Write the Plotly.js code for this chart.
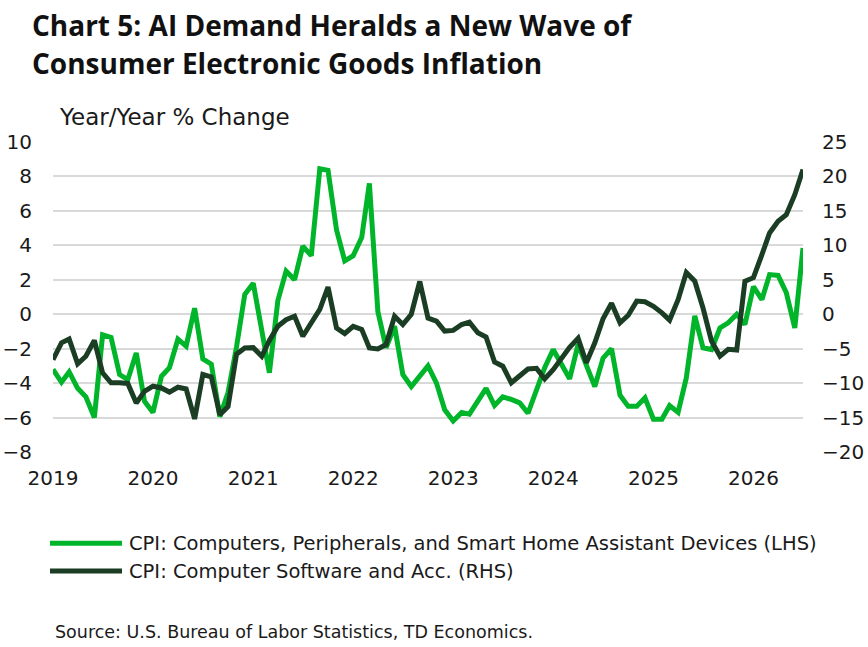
<!DOCTYPE html>
<html>
<head>
<meta charset="utf-8">
<script src="https://cdn.plot.ly/plotly-3.0.1.min.js"></script>
<style>
  body { margin: 0; background: #fff; }
  #chart { width: 868px; height: 647px; }
</style>
</head>
<body>
<div id="chart"></div>
<script>
// monthly, Jan 2019 .. Jul 2026
const startYear = 2019;
const nMonths = 91;

const computers = [
  -3.2, -3.95, -3.35, -4.3, -4.8, -6.0, -1.2, -1.35, -3.5, -3.8, -2.25, -5.05,
  -5.7, -3.6, -3.1, -1.45, -1.85, 0.35, -2.6, -2.9, -5.95, -4.55, -1.9, 1.15,
  1.8, -0.8, -3.4, 0.8, 2.5, 2.0, 3.95, 3.4, 8.45, 8.35, 4.9, 3.1,
  3.4, 4.45, 7.6, 0.15, -1.95, -0.7, -3.5, -4.2, -3.6, -3.0, -4.0, -5.55,
  -6.2, -5.7, -5.8, -5.05, -4.3, -5.3, -4.8, -4.95, -5.15, -5.75, -4.3, -3.1,
  -2.05, -3.0, -3.75, -1.75, -3.0, -4.2, -2.55, -2.0, -4.7, -5.35, -5.35, -4.85,
  -6.1, -6.1, -5.3, -5.7, -3.7, -0.1, -1.95, -2.05, -0.8, -0.5, 0.0, -0.6,
  1.6, 0.85, 2.3, 2.25, 1.25, -0.8, 3.85
];

const software = [
  -6.6, -4.15, -3.6, -7.2, -6.1, -3.8, -8.5, -9.95, -9.95, -10.05, -12.9, -11.2,
  -10.45, -10.7, -11.3, -10.6, -10.85, -15.2, -8.75, -9.1, -14.6, -13.4, -5.8, -4.9,
  -4.85, -6.1, -3.8, -1.75, -0.8, -0.3, -3.2, -1.25, 0.7, 3.95, -2.0, -2.8,
  -1.75, -2.2, -4.9, -5.05, -4.4, -0.3, -1.5, 0.0, 4.75, -0.55, -1.0, -2.45,
  -2.35, -1.5, -1.15, -2.7, -3.3, -6.95, -7.55, -9.95, -8.9, -7.95, -7.85, -9.4,
  -8.05, -6.3, -4.8, -3.5, -7.05, -4.15, -0.65, 1.6, -1.25, -0.15, 1.9, 1.8,
  1.15, 0.2, -0.85, 2.1, 6.05, 4.8, 0.9, -3.9, -6.1, -5.1, -5.2, 4.8,
  5.3, 8.65, 11.8, 13.5, 14.45, 17.35, 21.0
];

const seriesNames = [
  'CPI: Computers, Peripherals, and Smart Home Assistant Devices (LHS)',
  'CPI: Computer Software and Acc. (RHS)'
];
const seriesColors = ['#00b52a', '#1a3d23'];

const months = Array.from({length: nMonths}, (_, i) => {
  const y = startYear + Math.floor(i / 12);
  const m = (i % 12) + 1;
  return y + '-' + String(m).padStart(2, '0') + '-01';
});

const yearTicks = ['2019-01-01', '2020-01-01', '2021-01-01', '2022-01-01',
  '2023-01-01', '2024-01-01', '2025-01-01', '2026-01-01'];
const yearLabels = ['2019', '2020', '2021', '2022', '2023', '2024', '2025', '2026'];

const leftTicks = [-8, -6, -4, -2, 0, 2, 4, 6, 8, 10];
const rightTicks = [-20, -15, -10, -5, 0, 5, 10, 15, 20, 25];

const FONT = 'DejaVu Sans';
const TITLE_FONT = 'Open Sans';
const TXT = '#1a1a1a';

const data = [{
  x: months,
  y: computers,
  name: seriesNames[0],
  mode: 'lines',
  line: {width: 5, color: seriesColors[0]},
  yaxis: 'y'
}, {
  x: months,
  y: software,
  name: seriesNames[1],
  mode: 'lines',
  line: {width: 5, color: seriesColors[1]},
  yaxis: 'y2'
}];

// legend drawn by hand so the swatches are as long as in the original
const legendY = [-0.2945, -0.384];
const legendShapes = seriesColors.map((c, i) => ({
  type: 'line', xref: 'paper', yref: 'paper',
  x0: -0.004, x1: 0.092, y0: legendY[i], y1: legendY[i],
  line: {color: c, width: 5}
}));
const legendTexts = seriesNames.map((s, i) => ({
  text: s, xref: 'paper', yref: 'paper',
  x: 0.098, y: legendY[i], xanchor: 'left', yanchor: 'middle',
  showarrow: false,
  font: {family: FONT, size: 19.5, color: TXT}
}));

const layout = {
  width: 868,
  height: 647,
  margin: {l: 53, r: 65, t: 142, b: 195},
  paper_bgcolor: '#ffffff',
  plot_bgcolor: '#ffffff',
  font: {family: FONT, color: TXT},
  showlegend: false,
  xaxis: {
    type: 'date',
    range: ['2019-01-01', '2026-07-01'],
    tickvals: yearTicks,
    ticktext: yearLabels,
    showgrid: false,
    zeroline: false,
    showline: false,
    ticks: '',
    ticklabelstandoff: 12,
    tickfont: {family: FONT, size: 20, color: TXT}
  },
  yaxis: {
    range: [-8, 10],
    tickvals: leftTicks,
    gridcolor: '#d9d9d9',
    gridwidth: 2,
    zeroline: false,
    showline: false,
    ticks: '',
    ticklabelstandoff: 20,
    tickfont: {family: FONT, size: 20, color: TXT}
  },
  yaxis2: {
    range: [-20, 25],
    tickvals: rightTicks,
    overlaying: 'y',
    side: 'right',
    showgrid: false,
    zeroline: false,
    showline: false,
    ticks: '',
    ticklabelstandoff: 18,
    tickfont: {family: FONT, size: 20, color: TXT}
  },
  shapes: legendShapes,
  annotations: [{
    text: '<b>Chart 5: AI Demand Heralds a New Wave of</b>',
    xref: 'paper', yref: 'paper',
    x: -0.031, y: 1.377, xanchor: 'left', yanchor: 'middle',
    showarrow: false,
    font: {family: TITLE_FONT, size: 28, color: '#111111'}
  }, {
    text: '<b>Consumer Electronic Goods Inflation</b>',
    xref: 'paper', yref: 'paper',
    x: -0.031, y: 1.255, xanchor: 'left', yanchor: 'middle',
    showarrow: false,
    font: {family: TITLE_FONT, size: 28, color: '#111111'}
  }, {
    text: 'Year/Year % Change',
    xref: 'paper', yref: 'paper',
    x: 0.005, y: 1.081, xanchor: 'left', yanchor: 'middle',
    showarrow: false,
    font: {family: FONT, size: 23, color: TXT}
  }, {
    text: 'Source: U.S. Bureau of Labor Statistics, TD Economics.',
    xref: 'paper', yref: 'paper',
    x: 0.0, y: -0.581, xanchor: 'left', yanchor: 'middle',
    showarrow: false,
    font: {family: FONT, size: 17.5, color: TXT}
  }].concat(legendTexts)
};

Plotly.newPlot('chart', data, layout, {displayModeBar: false, staticPlot: true});
</script>
</body>
</html>
